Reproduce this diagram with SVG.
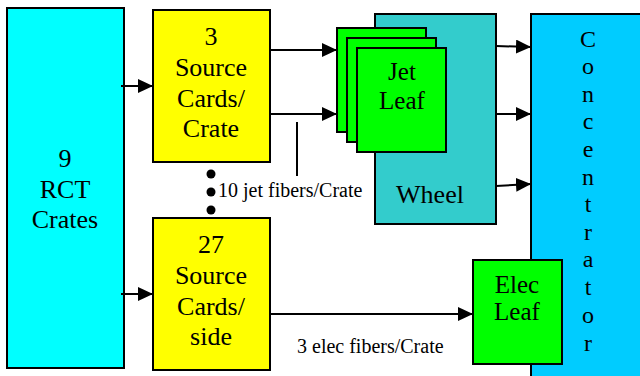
<svg xmlns="http://www.w3.org/2000/svg" width="640" height="376" viewBox="0 0 640 376" font-family="Liberation Serif, Times New Roman, Times, DejaVu Serif, serif">
<defs>
<marker id="arr" markerUnits="userSpaceOnUse" markerWidth="16" markerHeight="14" refX="15" refY="7" orient="auto">
<path d="M0,0 L15,7 L0,14 z" fill="#000"/>
</marker>
<style>
.box{stroke:#000;stroke-width:2}
.t{font-family:'Liberation Serif','Times New Roman',Times,'DejaVu Serif',serif;font-size:26px;text-anchor:middle;fill:#000}
.s{font-family:'Liberation Serif','Times New Roman',Times,'DejaVu Serif',serif;font-size:20px;fill:#000}
.c{font-family:'Liberation Serif','Times New Roman',Times,'DejaVu Serif',serif;font-size:24px;text-anchor:middle;fill:#000}
.ln{stroke:#000;stroke-width:2;fill:none}
</style>
</defs>
<rect width="640" height="376" fill="#fff"/>
<g id="rct">
<rect class="box" x="7" y="8" width="117" height="360" fill="#00FFFF"/>
<text class="t" x="65" y="167">9</text>
<text class="t" x="65" y="198">RCT</text>
<text class="t" x="65" y="228">Crates</text>
</g>
<g id="source1">
<rect class="box" x="153" y="10" width="117" height="152" fill="#FFFF00"/>
<text class="t" x="211" y="45">3</text>
<text class="t" x="211" y="76">Source</text>
<text class="t" x="211" y="107">Cards/</text>
<text class="t" x="211" y="137">Crate</text>
</g>
<g id="source2">
<rect class="box" x="153" y="218" width="117" height="152" fill="#FFFF00"/>
<text class="t" x="211" y="253">27</text>
<text class="t" x="211" y="284">Source</text>
<text class="t" x="211" y="315">Cards/</text>
<text class="t" x="211" y="345">side</text>
</g>
<g id="wheel">
<rect class="box" x="375" y="14" width="121" height="210" fill="#33CCCC"/>
<text class="t" x="430" y="203">Wheel</text>
</g>
<g id="jetleaf">
<rect class="box" x="337" y="28" width="89" height="104" fill="#00FF00"/>
<rect class="box" x="347" y="38" width="89" height="104" fill="#00FF00"/>
<rect class="box" x="357" y="48" width="89" height="104" fill="#00FF00"/>
<text class="t" x="402" y="80" style="font-size:25px">Jet</text>
<text class="t" x="402" y="109" style="font-size:25px">Leaf</text>
</g>
<g id="concentrator">
<rect class="box" x="531" y="14" width="120" height="372" fill="#00CCFF"/>
<text class="c" x="588" y="47">C</text>
<text class="c" x="588" y="74">o</text>
<text class="c" x="588" y="102">n</text>
<text class="c" x="588" y="129">c</text>
<text class="c" x="588" y="157">e</text>
<text class="c" x="588" y="185">n</text>
<text class="c" x="588" y="212">t</text>
<text class="c" x="588" y="240">r</text>
<text class="c" x="588" y="267">a</text>
<text class="c" x="588" y="295">t</text>
<text class="c" x="588" y="323">o</text>
<text class="c" x="588" y="351">r</text>
</g>
<g id="elecleaf">
<rect class="box" x="473" y="260" width="89" height="104" fill="#00FF00"/>
<text class="t" x="517" y="293" style="font-size:25px">Elec</text>
<text class="t" x="517" y="320" style="font-size:25px">Leaf</text>
</g>
<g id="connectors">
<line class="ln" x1="121" y1="86" x2="153" y2="86" marker-end="url(#arr)"/>
<line class="ln" x1="121" y1="294" x2="153" y2="294" marker-end="url(#arr)"/>
<line class="ln" x1="270" y1="50" x2="337" y2="50" marker-end="url(#arr)"/>
<line class="ln" x1="270" y1="114" x2="337" y2="114" marker-end="url(#arr)"/>
<line class="ln" x1="496" y1="46" x2="531" y2="47" marker-end="url(#arr)"/>
<line class="ln" x1="496" y1="114" x2="531" y2="114" marker-end="url(#arr)"/>
<line class="ln" x1="496" y1="186" x2="531" y2="184" marker-end="url(#arr)"/>
<line class="ln" x1="270" y1="314" x2="473" y2="314" marker-end="url(#arr)"/>
<line class="ln" x1="297" y1="122" x2="297" y2="176"/>
<circle cx="211" cy="174" r="4.5" fill="#000"/>
<circle cx="211" cy="192" r="4.5" fill="#000"/>
<circle cx="211" cy="210" r="4.5" fill="#000"/>
</g>
<g id="labels">
<text class="s" x="218" y="197">10 jet fibers/Crate</text>
<text class="s" x="297" y="353">3 elec fibers/Crate</text>
</g>
</svg>
